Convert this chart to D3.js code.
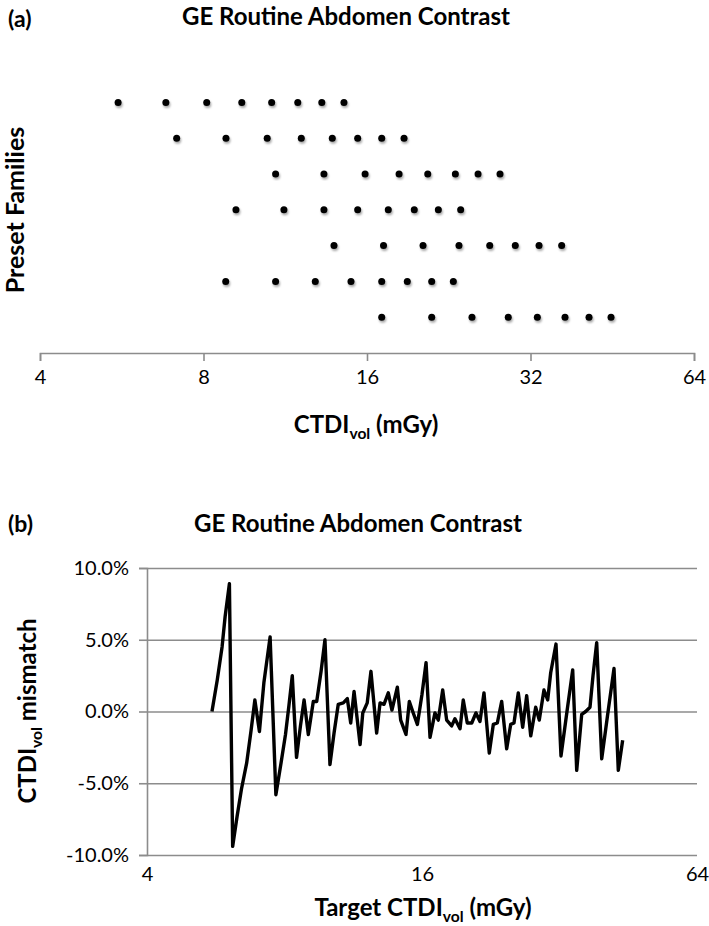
<!DOCTYPE html>
<html>
<head>
<meta charset="utf-8">
<script src="https://cdn.jsdelivr.net/npm/d3@7"></script>
<style>
    body { margin: 0; background: #fff; }
    svg { display: block; }
    text { font-family: Lato, "Open Sans", sans-serif; fill: #000; }
</style>
</head>
<body>
<svg id="chart"></svg>
<script>
// Set data
// (a) preset families, CTDIvol (mGy) of each preset, top row first
const familyRows = [7, 6, 5, 4, 3, 2, 1];
const familyValues = [
    [5.57, 6.82, 8.11, 9.41, 10.68, 11.93, 13.21, 14.51],
    [7.14, 8.80, 10.48, 12.11, 13.81, 15.38, 17.03, 18.72],
    [10.86, 13.33, 15.87, 18.33, 20.70, 23.27, 25.62, 28.12],
    [9.18, 11.25, 13.33, 15.38, 17.51, 19.55, 21.65, 23.80],
    [13.91, 17.16, 20.29, 23.63, 26.92, 30.00, 33.18, 36.52],
    [8.79, 10.86, 12.85, 14.95, 17.03, 18.98, 21.05, 23.07],
    [17.03, 21.05, 24.97, 29.12, 32.94, 37.04, 41.01, 45.02]
];
const topTicks = [4, 8, 16, 32, 64];

// (b) target CTDIvol (mGy) and mismatch (%)
const targetValues = [
    5.55, 5.70, 5.84, 5.93, 6.06, 6.16, 6.30, 6.44, 6.61, 6.76,
    6.89, 7.05, 7.21, 7.44, 7.66, 7.86, 8.04, 8.18, 8.32, 8.50,
    8.67, 8.83, 9.02, 9.25, 9.41, 9.62, 9.81, 10.06, 10.27, 10.49,
    10.76, 10.98, 11.17, 11.36, 11.71, 11.87, 12.14, 12.37, 12.73, 12.95,
    13.21, 13.50, 13.75, 14.13, 14.37, 14.76, 15.01, 15.31, 15.63, 16.00,
    16.33, 16.66, 17.08, 17.37, 17.76, 18.12, 18.58, 18.89, 19.38, 19.70,
    20.10, 20.56, 21.00, 21.43, 21.87, 22.46, 22.92, 23.39, 23.91, 24.52,
    25.02, 25.44, 26.00, 26.58, 27.12, 27.68, 28.38, 28.90, 29.59, 30.15,
    30.61, 31.44, 32.24, 33.23, 34.20, 34.90, 35.79, 36.52, 37.32, 37.89,
    38.60, 39.59, 40.76, 42.12, 43.04, 44.00
];
const mismatchValues = [
    0.0, 2.2, 4.5, 6.6, 8.9, -9.4, -7.3, -5.4, -3.6, -1.3,
    0.8, -1.4, 2.0, 5.2, -5.8, -3.6, -1.6, 0.4, 2.5, -3.2,
    -1.0, 0.8, -1.6, 0.7, 0.7, 2.8, 5.0, -3.7, -1.5, 0.5,
    0.6, 0.9, -0.8, 1.4, -2.3, -0.1, 0.6, 2.8, -1.5, 0.6,
    0.5, 1.3, 0.1, 1.7, -0.6, -1.6, 0.7, -0.1, -0.9, 1.2,
    3.4, -1.8, -0.1, -0.6, 1.5, -0.6, -1.0, -0.5, -1.2, 0.8,
    -0.8, -0.8, -0.1, -0.7, 1.3, -2.9, -0.9, -0.8, 0.7, -2.6,
    -0.9, -0.8, 1.3, -1.1, 1.1, -1.7, 0.3, -0.6, 1.5, 0.8,
    2.7, 4.7, -3.1, 0.0, 2.9, -4.1, -0.2, 0.0, 0.3, 2.5,
    4.8, -3.3, -0.3, 3.0, -4.1, -2.0
];
const bottomXTicks = [4, 16, 64];
const bottomYTicks = [-0.10, -0.05, 0, 0.05, 0.10];


// Set width and height
const width = 709;
const height = 926;
const axisColor = "#8c8c8c";

const canvas = d3.select("#chart")
    .attr("width", width)
    .attr("height", height);

canvas.append("rect")
    .attr("width", width).attr("height", height)
    .attr("fill", "white");

// soft shadow like the spreadsheet markers
const shadow = canvas.append("defs").append("filter")
    .attr("id", "dotShadow")
    .attr("x", "-50%").attr("y", "-50%")
    .attr("width", "200%").attr("height", "200%");
shadow.append("feDropShadow")
    .attr("dx", 1).attr("dy", 2)
    .attr("stdDeviation", 1.2)
    .attr("flood-color", "#000")
    .attr("flood-opacity", 0.35);


// functions
const drawLabel = function(g, x, y, main, sub, rest, size, rotate){
    const t = g.append("text")
        .attr("text-anchor", "middle")
        .style("font-size", size + "px")
        .style("font-weight", "bold");
    if (rotate) {
        t.attr("transform", "translate(" + x + "," + y + ") rotate(-90)");
    } else {
        t.attr("x", x).attr("y", y);
    }
    t.append("tspan").text(main);
    if (sub) {
        t.append("tspan").attr("dy", size * 0.25).style("font-size", (size * 0.65) + "px").text(sub);
        t.append("tspan").attr("dy", -size * 0.25).text(rest);
    }
    return t;
}

const styleAxis = function(g){
    g.select(".domain").attr("stroke", axisColor).attr("stroke-width", 1.6);
    g.selectAll(".tick line").attr("stroke", axisColor).attr("stroke-width", 1.6);
    g.selectAll(".tick text").style("font-size", "20px").attr("fill", "#000");
}


// (a) dots
const xTop = d3.scaleLog().base(2).domain([4, 64]).range([40, 694]);
const yTop = d3.scaleLinear().domain([0, 8]).range([353, 66.6]);

canvas.append("text")
    .attr("x", 8).attr("y", 27)
    .style("font-size", "23px").style("font-weight", "bold")
    .text("(a)");
canvas.append("text")
    .attr("x", 346).attr("y", 25)
    .attr("text-anchor", "middle")
    .style("font-size", "24px").style("font-weight", "bold")
    .text("GE Routine Abdomen Contrast");

const topAxis = canvas.append("g")
    .attr("transform", "translate(0," + yTop(0) + ")")
    .call(d3.axisBottom(xTop).tickValues(topTicks).tickFormat(d3.format("d")).tickSizeOuter(0).tickSize(8).tickPadding(9));
styleAxis(topAxis);

familyValues.forEach(function(row, i){
    canvas.append("g").selectAll("circle")
        .data(row)
        .join("circle")
        .attr("cx", d => xTop(d))
        .attr("cy", yTop(familyRows[i]))
        .attr("r", 3.5)
        .attr("fill", "black")
        .attr("filter", "url(#dotShadow)");
});

drawLabel(canvas, 366, 433, "CTDI", "vol", " (mGy)", 24, false);
drawLabel(canvas, 24, 210, "Preset Families", null, null, 25, true);


// (b) mismatch line
const xBot = d3.scaleLog().base(2).domain([4, 64]).range([147, 697]);
const yBot = d3.scaleLinear().domain([-0.1, 0.1]).range([855, 568]);
const pct = d3.formatLocale({decimal: ".", thousands: ",", grouping: [3], currency: ["", ""], minus: "-"}).format(".1%");

canvas.append("text")
    .attr("x", 8).attr("y", 532)
    .style("font-size", "23px").style("font-weight", "bold")
    .text("(b)");
canvas.append("text")
    .attr("x", 358).attr("y", 532)
    .attr("text-anchor", "middle")
    .style("font-size", "24px").style("font-weight", "bold")
    .text("GE Routine Abdomen Contrast");

// gridlines with the left ticks
const yAxis = canvas.append("g")
    .attr("transform", "translate(" + xBot(4) + ",0)")
    .call(d3.axisLeft(yBot).tickValues(bottomYTicks).tickFormat(pct).tickSizeOuter(0).tickSize(8).tickPadding(10));
styleAxis(yAxis);
yAxis.selectAll(".tick").append("line")
    .attr("x1", 0).attr("x2", xBot(64) - xBot(4))
    .attr("stroke", axisColor).attr("stroke-width", 1.6);

const xAxis = canvas.append("g")
    .attr("transform", "translate(0," + yBot(-0.1) + ")")
    .call(d3.axisBottom(xBot).tickValues(bottomXTicks).tickFormat(d3.format("d")).tickSize(0).tickPadding(12));
styleAxis(xAxis);
xAxis.select(".domain").remove();

const points = targetValues.map((t, i) => [t, mismatchValues[i] / 100]);
canvas.append("path")
    .datum(points)
    .attr("d", d3.line().x(d => xBot(d[0])).y(d => yBot(d[1])))
    .attr("fill", "none")
    .attr("stroke", "black")
    .attr("stroke-width", 3.4)
    .attr("stroke-linejoin", "round");

drawLabel(canvas, 423, 916, "Target CTDI", "vol", " (mGy)", 24, false);
drawLabel(canvas, 36, 711, "CTDI", "vol", " mismatch", 24, true);
</script>
</body>
</html>
